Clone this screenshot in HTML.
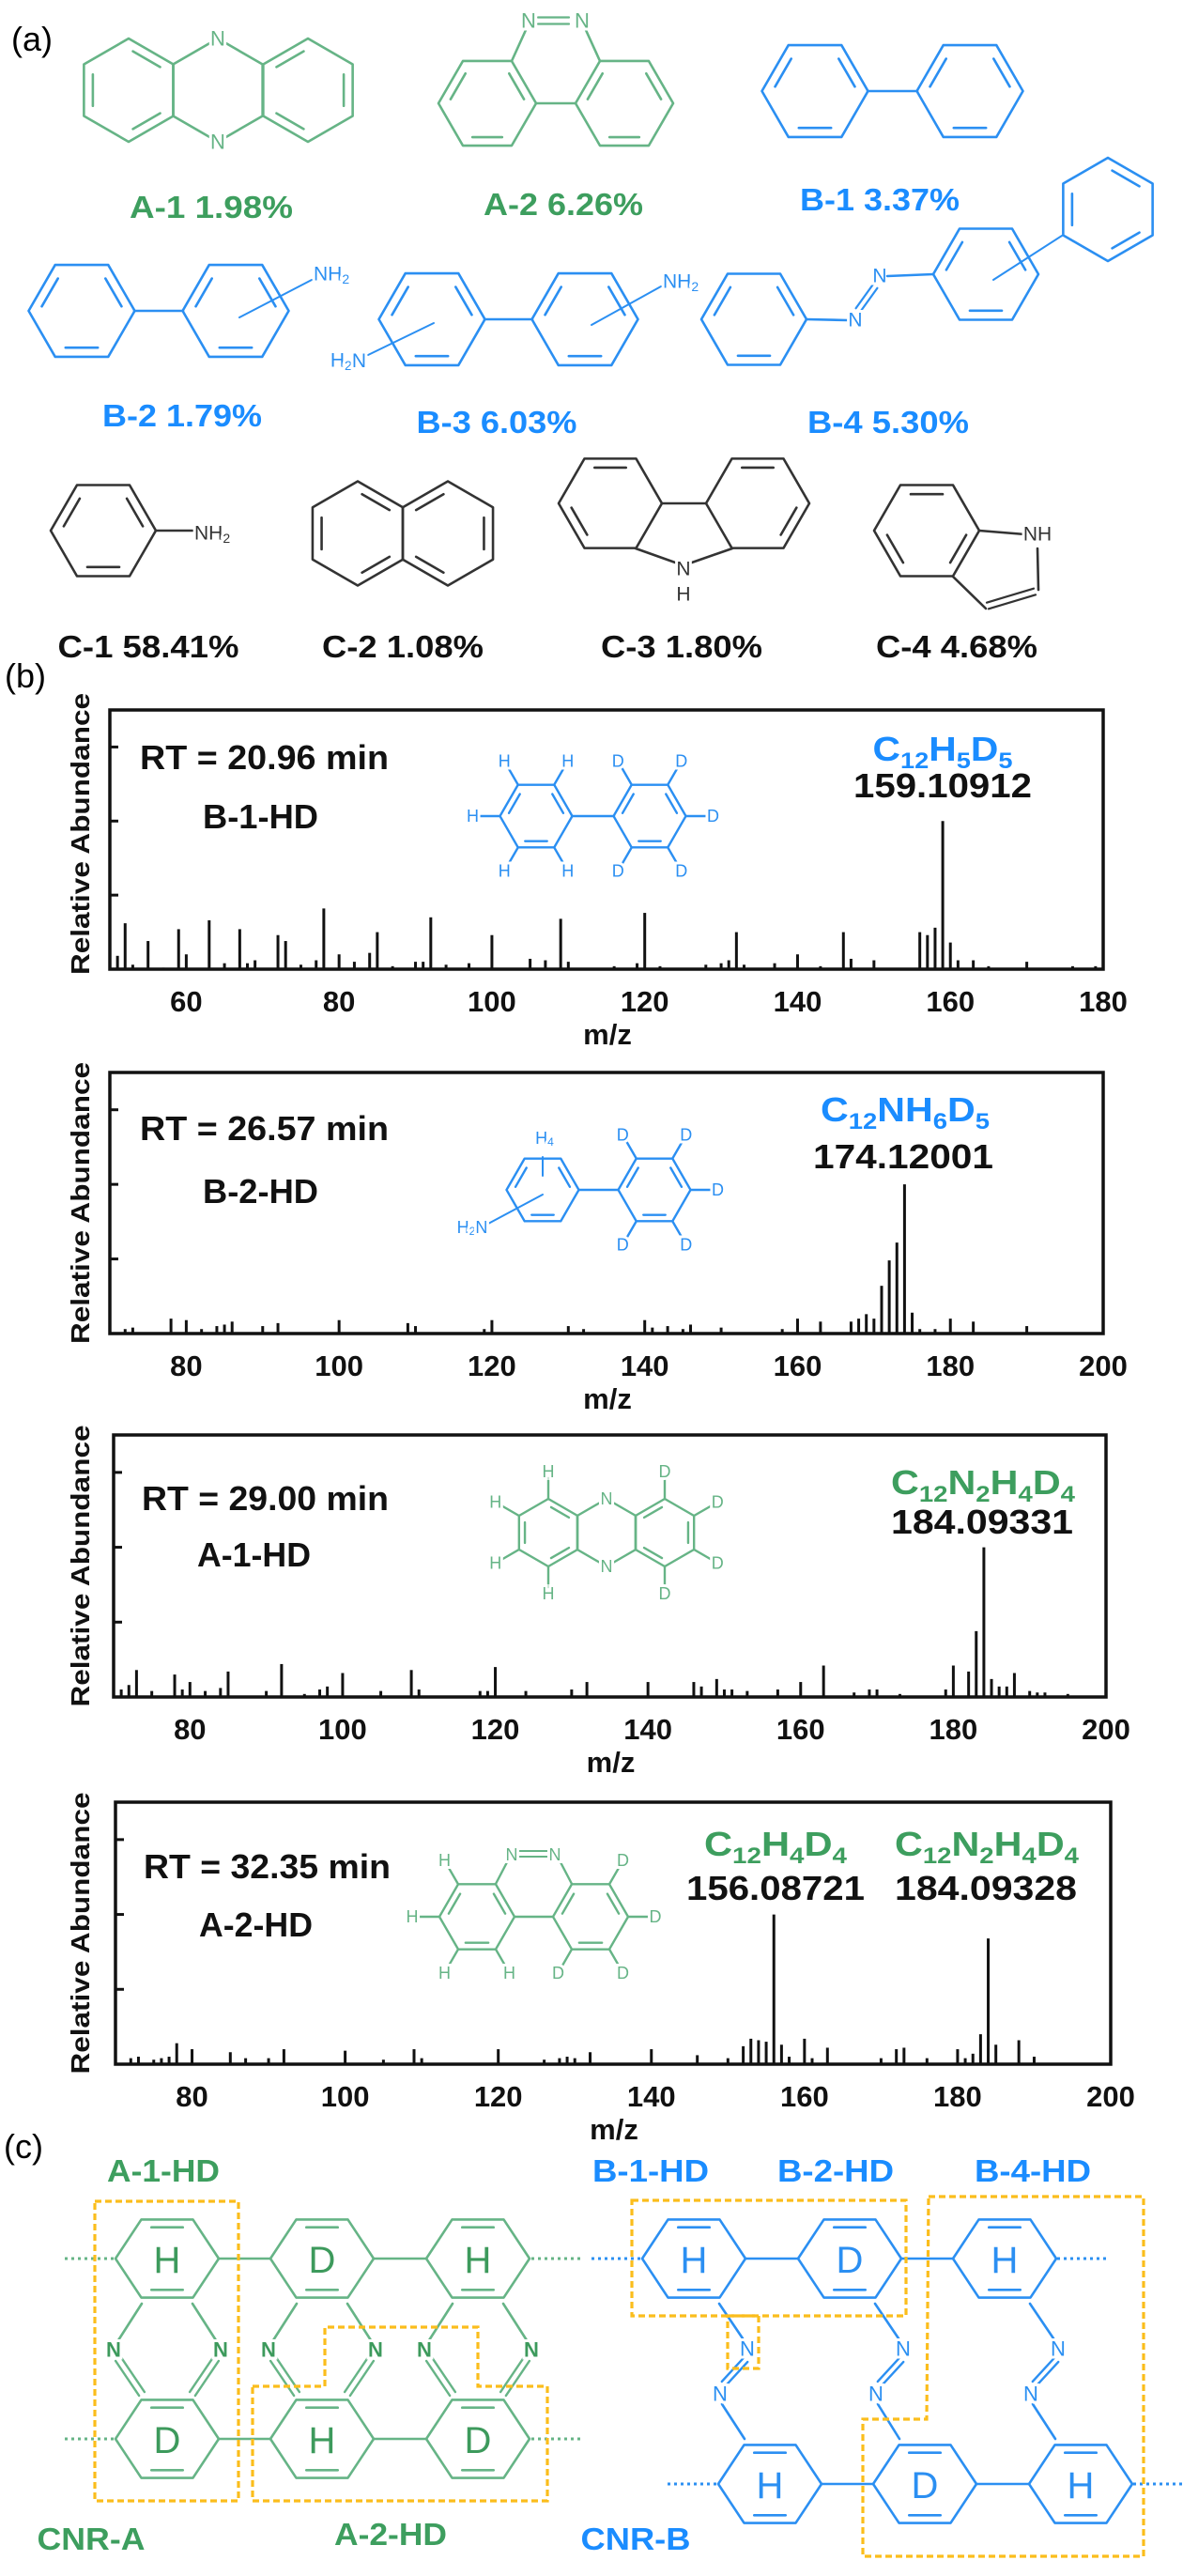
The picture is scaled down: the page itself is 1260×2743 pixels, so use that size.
<!DOCTYPE html>
<html><head><meta charset="utf-8"><style>
html,body{margin:0;padding:0;background:#fff;}
svg{display:block;font-family:"Liberation Sans",Arial,sans-serif;}
.lab{font-weight:bold;font-size:33px;}
.pt{font-weight:bold;font-size:36px;fill:#111;}
.tk{font-weight:bold;font-size:31px;fill:#111;}
.at{font-size:20px;}
.nb{paint-order:stroke;stroke:#fff;stroke-width:6px;}
</style></head><body>
<svg id="fig" width="1260" height="2743" viewBox="0 0 1260 2743">
<rect width="1260" height="2743" fill="#fff"/>
<text x="12" y="54" font-size="36">(a)</text>
<text x="5" y="732" font-size="36">(b)</text>
<text x="4" y="2298" font-size="36">(c)</text>

<g text-anchor="middle" class="lab">
<text x="225" y="232" fill="#3d9e5e" textLength="174">A-1 1.98%</text>
<text x="600" y="229" fill="#3d9e5e" textLength="170">A-2 6.26%</text>
<text x="937" y="224" fill="#1a8cff" textLength="170">B-1 3.37%</text>
<text x="194" y="454" fill="#1a8cff" textLength="170">B-2 1.79%</text>
<text x="529" y="461" fill="#1a8cff" textLength="171">B-3 6.03%</text>
<text x="946" y="461" fill="#1a8cff" textLength="172">B-4 5.30%</text>
<text x="158" y="700" fill="#111" textLength="193">C-1 58.41%</text>
<text x="429" y="700" fill="#111" textLength="172">C-2 1.08%</text>
<text x="726" y="700" fill="#111" textLength="172">C-3 1.80%</text>
<text x="1019" y="700" fill="#111" textLength="172">C-4 4.68%</text>
</g>

<g class="pt">
<text x="149" y="819" textLength="265">RT = 20.96 min</text>
<text x="216" y="882" textLength="123">B-1-HD</text>
<text x="1004" y="810" text-anchor="middle" fill="#1a8cff" textLength="149">C<tspan font-size="24" dy="8">12</tspan><tspan dy="-8">H</tspan><tspan font-size="24" dy="8">5</tspan><tspan dy="-8">D</tspan><tspan font-size="24" dy="8">5</tspan></text>
<text x="1004" y="849" text-anchor="middle" textLength="190">159.10912</text>

<text x="149" y="1214" textLength="265">RT = 26.57 min</text>
<text x="216" y="1281" textLength="123">B-2-HD</text>
<text x="964" y="1194" text-anchor="middle" fill="#1a8cff" textLength="180">C<tspan font-size="24" dy="8">12</tspan><tspan dy="-8">NH</tspan><tspan font-size="24" dy="8">6</tspan><tspan dy="-8">D</tspan><tspan font-size="24" dy="8">5</tspan></text>
<text x="962" y="1244" text-anchor="middle" textLength="192">174.12001</text>

<text x="151" y="1608" textLength="263">RT = 29.00 min</text>
<text x="210" y="1668" textLength="121">A-1-HD</text>
<text x="1047" y="1591" text-anchor="middle" fill="#3d9e5e" textLength="196">C<tspan font-size="24" dy="8">12</tspan><tspan dy="-8">N</tspan><tspan font-size="24" dy="8">2</tspan><tspan dy="-8">H</tspan><tspan font-size="24" dy="8">4</tspan><tspan dy="-8">D</tspan><tspan font-size="24" dy="8">4</tspan></text>
<text x="1046" y="1633" text-anchor="middle" textLength="194">184.09331</text>

<text x="153" y="2000" textLength="263">RT = 32.35 min</text>
<text x="212" y="2062" textLength="121">A-2-HD</text>
<text x="826" y="1976" text-anchor="middle" fill="#3d9e5e" textLength="152">C<tspan font-size="24" dy="8">12</tspan><tspan dy="-8">H</tspan><tspan font-size="24" dy="8">4</tspan><tspan dy="-8">D</tspan><tspan font-size="24" dy="8">4</tspan></text>
<text x="826" y="2023" text-anchor="middle" textLength="190">156.08721</text>
<text x="1051" y="1976" text-anchor="middle" fill="#3d9e5e" textLength="196">C<tspan font-size="24" dy="8">12</tspan><tspan dy="-8">N</tspan><tspan font-size="24" dy="8">2</tspan><tspan dy="-8">H</tspan><tspan font-size="24" dy="8">4</tspan><tspan dy="-8">D</tspan><tspan font-size="24" dy="8">4</tspan></text>
<text x="1050" y="2023" text-anchor="middle" textLength="194">184.09328</text>
</g>

<g class="lab" text-anchor="middle">
<text x="174" y="2323" fill="#3d9e5e" textLength="120">A-1-HD</text>
<text x="693" y="2323" fill="#1a8cff" textLength="124">B-1-HD</text>
<text x="890" y="2323" fill="#1a8cff" textLength="124">B-2-HD</text>
<text x="1100" y="2323" fill="#1a8cff" textLength="124">B-4-HD</text>
<text x="97" y="2715" fill="#3d9e5e" textLength="115">CNR-A</text>
<text x="416" y="2710" fill="#3d9e5e" textLength="120">A-2-HD</text>
<text x="677" y="2715" fill="#1a8cff" textLength="117">CNR-B</text>
</g>
</svg>
<script>
// ---- spectra data (m/z, relative intensity) ----
const p1Mz  = [51,52,53,55,57,59,60,63,65,67,68,69,72,73,75,77,78,80,82,84,85,87,90,91,92,94,97,100,105,107,109,110,116,119,120,122,128,130,131,132,133,137,140,143,146,147,150,156,157,158,159,160,161,163,165,170,176,179];
const p1Int = [9,31,3,19,1,27,10,33,4,27,4,6,23,19,3,6,41,10,5,11,25,2,5,5,35,3,4,23,7,6,34,5,2,4,38,2,3,4,6,25,3,4,10,2,25,7,6,25,23,28,100,18,6,6,2,5,2,2];
const p2Mz  = [72,73,78,80,82,84,85,86,90,92,100,109,110,119,120,130,132,140,141,143,145,146,150,158,160,163,167,168,169,170,171,172,173,174,175,176,178,180,183,190];
const p2Int = [3,4,10,9,3,5,6,8,5,7,9,7,5,3,9,5,3,9,4,5,3,6,4,3,10,8,8,10,13,10,32,49,61,100,14,3,3,10,8,5];
const p3Mz  = [71,72,73,75,78,79,80,82,84,85,90,92,95,97,98,100,105,109,110,118,119,120,124,130,132,140,146,147,149,150,151,153,157,160,163,167,169,170,173,179,180,182,183,184,185,186,187,188,190,191,192,195];
const p3Int = [5,8,18,4,15,5,10,4,6,17,4,22,2,5,7,16,4,18,5,4,4,20,4,5,10,10,10,7,12,5,5,4,5,10,21,3,5,5,2,5,21,17,44,100,12,7,7,16,4,3,3,2];
const p4Mz  = [72,73,75,76,77,78,80,85,87,90,92,100,105,109,110,120,126,128,129,130,132,140,146,150,152,153,154,155,156,157,158,160,161,163,170,172,173,176,180,181,182,183,184,185,188,190];
const p4Int = [4,5,3,4,5,14,10,8,4,4,10,9,3,10,4,10,3,4,5,4,8,10,6,4,12,17,16,15,100,13,5,17,4,11,4,10,11,4,10,4,7,20,84,13,16,5];
const xTicks1 = [60,80,100,120,140,160,180];
const xTicks2 = [80,100,120,140,160,180,200];
const yTickVals = [50,100,150];

const svg = document.getElementById('fig');
const NSU = svg.namespaceURI;
function mk(tag, attrs, name, parent){
  const el = document.createElementNS(NSU, tag);
  for (const k in attrs) el.setAttribute(k, attrs[k]);
  
  
  (parent || svg).appendChild(el);
  return el;
}

const panels = [
  {L:117,R:1175,T:756,B:1032,xmin:50,xmax:180,mz:p1Mz,it:p1Int,ticks:xTicks1},
  {L:117,R:1175,T:1142,B:1420,xmin:70,xmax:200,mz:p2Mz,it:p2Int,ticks:xTicks2},
  {L:121,R:1178,T:1528,B:1807,xmin:70,xmax:200,mz:p3Mz,it:p3Int,ticks:xTicks2},
  {L:123,R:1183,T:1919,B:2198,xmin:70,xmax:200,mz:p4Mz,it:p4Int,ticks:xTicks2}
];
const YMAX = 175;
function xScale(p, v){ return p.L + (v - p.xmin) / (p.xmax - p.xmin) * (p.R - p.L); }
function yScale(p, v){ return p.B - v / YMAX * (p.B - p.T); }

panels.forEach((p, k) => {
  const g = mk('g', {}, 'spectrum-panel-' + (k+1));
  p.mz.forEach((m, i) => {
    const x = xScale(p, m);
    const b = mk('line', {x1:x, y1:p.B, x2:x, y2:yScale(p, p.it[i]), stroke:'#111', 'stroke-width':3}, 'peak', g);
    
  });
  mk('rect', {x:p.L, y:p.T, width:p.R-p.L, height:p.B-p.T, fill:'none', stroke:'#111', 'stroke-width':3.5}, 'plot-frame', g);
  yTickVals.forEach(v => {
    mk('line', {x1:p.L, x2:p.L+9, y1:yScale(p,v), y2:yScale(p,v), stroke:'#111', 'stroke-width':3}, 'y-tick', g);
  });
  p.ticks.forEach(v => {
    const t = mk('text', {x:xScale(p,v), y:p.B+45, 'text-anchor':'middle', class:'tk'}, 'x-tick-label', g);
    t.textContent = v;
  });
  const xt = mk('text', {x:(p.L+p.R)/2+1, y:p.B+80, 'text-anchor':'middle', class:'tk', 'font-size':32}, 'x-axis-title', g);
  xt.textContent = 'm/z';
  const cy = (p.T+p.B)/2 + (k===0 ? -6 : 0);
  const yt = mk('text', {x:0, y:0, transform:'translate(95,'+cy+') rotate(-90)', 'text-anchor':'middle', 'font-weight':'bold', 'font-size':28, fill:'#111', textLength:300}, 'y-axis-title', g);
  yt.textContent = 'Relative Abundance';
});

function ln(x1,y1,x2,y2,c,w){ return mk('line',{x1:x1,y1:y1,x2:x2,y2:y2,stroke:c,'stroke-width':w||2.6,'stroke-linecap':'round'},'bond'); }
function dbl(x1,y1,x2,y2,c,w,off){
  off = off||6; const dx=x2-x1, dy=y2-y1, L=Math.hypot(dx,dy), nx=-dy/L*off/2, ny=dx/L*off/2;
  ln(x1+nx,y1+ny,x2+nx,y2+ny,c,w); ln(x1-nx,y1-ny,x2-nx,y2-ny,c,w);
}
function hex(cx,cy,r,flat,c,dbls,w,ry){
  ry = ry||1; const pts=[];
  for (let i=0;i<6;i++){ const a=((flat?0:30)+60*i)*Math.PI/180; pts.push([cx+r*Math.cos(a), cy+r*Math.sin(a)*ry]); }
  mk('polygon',{points:pts.map(p=>p.join(',')).join(' '),fill:'none',stroke:c,'stroke-width':w||2.6,'stroke-linejoin':'round'},'ring');
  (dbls||[]).forEach(i=>{
    const p=pts[i], q=pts[(i+1)%6], f=0.8;
    const a=[cx+(p[0]-cx)*f, cy+(p[1]-cy)*f], b=[cx+(q[0]-cx)*f, cy+(q[1]-cy)*f];
    const s=0.12;
    ln(a[0]+(b[0]-a[0])*s, a[1]+(b[1]-a[1])*s, b[0]-(b[0]-a[0])*s, b[1]-(b[1]-a[1])*s, c, w);
  });
  return pts;
}
function at(x,y,t,c,fs,bold,anchor){
  const e = mk('text',{x:x,y:y,'text-anchor':anchor||'middle','dominant-baseline':'central','font-size':fs||20,fill:c,'font-weight':bold?'bold':'normal',class:'nb'},'atom-label');
  e.innerHTML = t;
  return e;
}
const G='#66b486', GT='#3d9a5c', BL='#2b8ff2', K='#333';

// (a) A-1 phenazine
hex(137,96,55,false,G,[2,4,0]); hex(232,96,55,false,G,[]); hex(328,96,55,false,G,[5,3,1]);
at(232,41,'N',G,22); at(232,151,'N',G,22);
// A-2
hex(519,110,52,true,G,[1,3,5]); hex(665,110,52,true,G,[1,3,5]);
ln(571,110,613,110,G); ln(545,65,560,32,G); ln(639,65,624,32,G);
dbl(573,22,606,22,G,2.2,7); at(563,22,'N',G,22); at(620,22,'N',G,22);
// B-1
hex(868,97,56.5,true,BL,[1,3,5]); hex(1033,97,56.5,true,BL,[1,3,5]); ln(924,97,977,97,BL);
// B-2
hex(87,331,56.5,true,BL,[1,3,5]); hex(251,331,56.5,true,BL,[1,3,5]); ln(143,331,195,331,BL);
ln(255,338,332,298,BL,2); at(334,292,'NH<tspan font-size="14" dy="5">2</tspan>',BL,21,false,'start');
// B-3
hex(460,340,56.5,true,BL,[1,3,5]); hex(623,340,56.5,true,BL,[1,3,5]); ln(516,340,567,340,BL);
ln(630,346,704,305,BL,2); at(706,300,'NH<tspan font-size="14" dy="5">2</tspan>',BL,21,false,'start');
ln(462,344,392,378,BL,2); at(390,384,'H<tspan font-size="14" dy="5">2</tspan><tspan dy="-5">N</tspan>',BL,21,false,'end');
// B-4
hex(803,340,56,true,BL,[1,3,5]); ln(859,340,903,341,BL); dbl(914,330,932,305,BL,2.2,6);
at(911,341,'N',BL,21); at(937,294,'N',BL,21); ln(945,294,994,292,BL);
hex(1050,292,56,true,BL,[1,3,5]); ln(1058,298,1131,251,BL,2); hex(1180,223,55,false,BL,[0,2,4]);
// C-1
hex(110,565,56,true,K,[1,3,5]); ln(166,565,205,565,K); at(207,568,'NH<tspan font-size="14" dy="5">2</tspan>',K,21,false,'start');
// C-2
hex(381,568,55.5,false,K,[2,4,0]); hex(477,568,55.5,false,K,[5,1,3]);
// C-3
hex(650,536,55,true,K,[2,4]); hex(807,536,55,true,K,[0,4]);
ln(705,536,752,536,K); ln(677,584,722,600,K); ln(734,600,780,584,K);
at(728,606,'N',K,21); at(728,633,'H',K,21);
// C-4
hex(987,565,56,true,K,[2,4,0]); ln(1043,565,1092,569,K); ln(1105,584,1106,628,K);
dbl(1102,630,1052,645,K,2.2,7); ln(1050,648,1015,614,K); at(1105,569,'NH',K,21);

// (b) inset molecules
function sub(cx,cy,r,flat,c,dbls,labels,len,fs){
  const pts = hex(cx,cy,r,flat,c,dbls,2.4);
  labels.forEach(l=>{
    const p = pts[l[0]]; const dx=p[0]-cx, dy=p[1]-cy, L=Math.hypot(dx,dy);
    const ex=p[0]+dx/L*len, ey=p[1]+dy/L*len;
    ln(p[0],p[1],ex,ey,c,2.4); at(ex+dx/L*7,ey+dy/L*7,l[1],c,fs||18);
  });
  return pts;
}
sub(571,869,38.5,true,BL,[1,3,5],[[1,'H'],[2,'H'],[3,'H'],[4,'H'],[5,'H']],22);
sub(692,869,38.5,true,BL,[1,3,5],[[0,'D'],[1,'D'],[2,'D'],[4,'D'],[5,'D']],22);
ln(609,869,654,869,BL,2.4);
hex(578,1267,38.5,true,BL,[1,3,5],2.4); ln(578,1232,578,1252,BL,2); at(580,1212,'H<tspan font-size="12" dy="4">4</tspan>',BL,18);
ln(578,1272,520,1303,BL,2); at(503,1307,'H<tspan font-size="12" dy="4">2</tspan><tspan dy="-4">N</tspan>',BL,18);
sub(697,1267,38.5,true,BL,[1,3,5],[[0,'D'],[1,'D'],[2,'D'],[4,'D'],[5,'D']],22);
ln(617,1267,658,1267,BL,2.4);
sub(584,1632,36,false,G,[2,4,0],[[3,'H'],[2,'H'],[4,'H'],[1,'H']],22);
hex(646,1632,36,false,G,[],2.4);
sub(708,1632,36,false,G,[5,3,1],[[5,'D'],[0,'D'],[4,'D'],[1,'D']],22);
at(646,1596,'N',G,18); at(646,1668,'N',G,18);
sub(508,2041,40,true,G,[1,3,5],[[3,'H'],[4,'H'],[2,'H'],[1,'H']],22);
sub(629,2041,40,true,G,[1,3,5],[[0,'D'],[5,'D'],[1,'D'],[2,'D']],22);
ln(548,2041,589,2041,G,2.4); ln(528,2006,540,1983,G,2.4); ln(609,2006,597,1983,G,2.4);
dbl(553,1974,583,1974,G,2,6); at(545,1975,'N',G,18); at(591,1975,'N',G,18);

// (c) scheme
const OR='#fbbd1c';
function dash(pts,name){ mk('polygon',{points:pts,fill:'none',stroke:OR,'stroke-width':3.2,'stroke-dasharray':'7 4'},name); }
function dots(x1,x2,y,c){ mk('line',{x1:x1,x2:x2,y1:y,y2:y,stroke:c,'stroke-width':3,'stroke-dasharray':'3 4'},'dotted-chain-end'); }
const GC=[178,343,509];
const up=['H','D','H'], lo=['D','H','D'];
GC.forEach((cx,i)=>{
  hex(cx,2405,55,true,G,[1,4],2.6,0.873); hex(cx,2597,55,true,G,[1,4],2.6,0.873);
  at(cx,2407,up[i],GT,40); at(cx,2599,lo[i],GT,40);
  ln(cx-27,2453,cx-52,2492,G); dbl(cx-52,2512,cx-27,2549,G,2.4,7);
  ln(cx+27,2453,cx+52,2492,G); dbl(cx+52,2512,cx+27,2549,G,2.4,7);
  at(cx-57,2502,'N',GT,22,true); at(cx+57,2502,'N',GT,22,true);
  if(i<2){ ln(cx+55,2405,GC[i+1]-55,2405,G); ln(cx+55,2597,GC[i+1]-55,2597,G); }
});
dots(69,121,2405,G); dots(566,618,2405,G); dots(69,121,2597,G); dots(566,618,2597,G);
const BU=[739,905,1070], BLo=[820,985,1151];
BU.forEach((cx,i)=>{
  hex(cx,2405,55,true,BL,[1,4],2.6,0.873); at(cx,2407,['H','D','H'][i],BL,40);
  const lx=BLo[i];
  hex(lx,2645,55,true,BL,[1,4],2.6,0.873); at(lx,2647,['H','D','H'][i],BL,40);
  ln(cx+27,2453,cx+52,2490,BL); dbl(cx+55,2513,cx+32,2538,BL,2.4,6); ln(cx+30,2560,lx-27,2597,BL);
  at(cx+57,2501,'N',BL,22); at(cx+28,2549,'N',BL,22);
  if(i<2){ ln(cx+55,2405,BU[i+1]-55,2405,BL); ln(lx+55,2645,BLo[i+1]-55,2645,BL); }
});
dots(630,683,2405,BL); dots(1126,1181,2405,BL); dots(711,764,2645,BL); dots(1207,1260,2645,BL);
dash('101,2344 254,2344 254,2663 101,2663','box-a1-hd');
dash('269,2541 346,2541 346,2478 509,2478 509,2541 583,2541 583,2663 269,2663','box-a2-hd');
dash('673,2343 965,2343 965,2466 673,2466','box-b1-b2-hd');
dash('775,2466 808,2466 808,2522 775,2522','box-b1-n');
dash('989,2339 1218,2339 1218,2722 919,2722 919,2576 987,2576','box-b4-hd');

document.querySelectorAll('[textLength]').forEach(e => e.setAttribute('lengthAdjust', 'spacingAndGlyphs'));
</script>
</body></html>
